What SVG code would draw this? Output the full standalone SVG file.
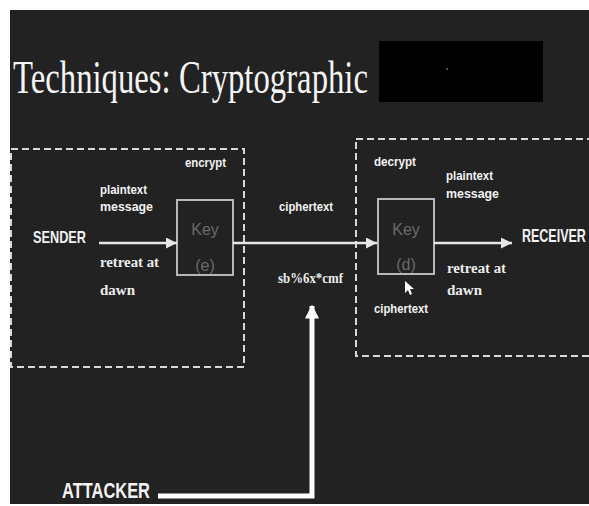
<svg xmlns="http://www.w3.org/2000/svg" width="589" height="506" viewBox="0 0 589 506">
<defs>
<style>
.bg{fill:#222222}
.dash{fill:none;stroke:#d8d8d8;stroke-width:2;stroke-dasharray:7 4}
.key{fill:none;stroke:#b8b8b8;stroke-width:2}
.lbl{font-family:"Liberation Sans",Arial,sans-serif;font-weight:bold;fill:#f2f2f2}
.ser{font-family:"Liberation Serif","Times New Roman",serif;font-weight:bold;fill:#ececec}
.keyt{font-family:"Liberation Sans",Arial,sans-serif;fill:#6a6a6a;font-size:16px;text-anchor:middle}
.line{stroke:#e6e6e6;stroke-width:2.5;fill:none}
.thick{stroke:#ffffff;stroke-width:5;fill:none}
</style>
<marker id="ah" viewBox="0 0 10 10" refX="10" refY="5" markerWidth="4.4" markerHeight="4.4" orient="auto" markerUnits="strokeWidth">
<path d="M0,0 L10,5 L0,10 z" fill="#e6e6e6"/>
</marker>
<marker id="ahw" viewBox="0 0 10 10" refX="9" refY="5" markerWidth="2.8" markerHeight="2.8" orient="auto" markerUnits="strokeWidth">
<path d="M0,0 L10,5 L0,10 z" fill="#ffffff"/>
</marker>
</defs>
<rect x="0" y="0" width="589" height="506" fill="#ffffff"/>
<rect class="bg" x="10" y="10" width="579" height="494"/>

<g id="title">
<text x="13" y="93" font-family="'Liberation Serif','Times New Roman',serif" font-size="47" fill="#f4f4f4" textLength="355" lengthAdjust="spacingAndGlyphs">Techniques: Cryptographic</text>
<rect x="379" y="41" width="164" height="61" fill="#000000"/>
<circle cx="447" cy="69" r="0.8" fill="#bbbbbb"/>
</g>

<g id="sender-box">
<rect class="dash" x="11" y="149" width="233" height="218"/>
</g>
<g id="receiver-box">
<rect class="dash" x="356" y="139" width="250" height="217"/>
</g>

<g id="sender">
<text class="lbl" x="33" y="243" font-size="17" textLength="53" lengthAdjust="spacingAndGlyphs">SENDER</text>
</g>
<g id="plaintext-left">
<text class="lbl" x="100" y="194" font-size="13" textLength="47" lengthAdjust="spacingAndGlyphs">plaintext</text>
<text class="lbl" x="100" y="211" font-size="13" textLength="53" lengthAdjust="spacingAndGlyphs">message</text>
</g>
<g id="retreat-left">
<text class="ser" x="100" y="267" font-size="15" textLength="59" lengthAdjust="spacingAndGlyphs">retreat at</text>
<text class="ser" x="100" y="295" font-size="15" textLength="35" lengthAdjust="spacingAndGlyphs">dawn</text>
</g>
<g id="encrypt">
<text class="lbl" x="185" y="167" font-size="12" textLength="41" lengthAdjust="spacingAndGlyphs">encrypt</text>
<rect class="key" x="177" y="200" width="56" height="75"/>
<text class="keyt" x="205" y="235">Key</text>
<text class="keyt" x="205" y="271">(e)</text>
</g>
<g id="cipher-mid">
<text class="lbl" x="279" y="211" font-size="13" textLength="54" lengthAdjust="spacingAndGlyphs">ciphertext</text>
<text class="ser" x="278" y="283" font-size="14" textLength="65" lengthAdjust="spacingAndGlyphs">sb%6x*cmf</text>
</g>
<g id="decrypt">
<text class="lbl" x="374" y="166" font-size="12" textLength="42" lengthAdjust="spacingAndGlyphs">decrypt</text>
<rect class="key" x="378" y="199" width="56" height="75"/>
<text class="keyt" x="406" y="235">Key</text>
<text class="keyt" x="406" y="270">(d)</text>
<text class="lbl" x="374" y="313" font-size="13" textLength="54" lengthAdjust="spacingAndGlyphs">ciphertext</text>
<path d="M405,281 L405,293 L408,290 L410,295 L412,294 L410,289 L414,289 z" fill="#ffffff"/>
</g>
<g id="plaintext-right">
<text class="lbl" x="446" y="180" font-size="13" textLength="47" lengthAdjust="spacingAndGlyphs">plaintext</text>
<text class="lbl" x="446" y="198" font-size="13" textLength="53" lengthAdjust="spacingAndGlyphs">message</text>
</g>
<g id="retreat-right">
<text class="ser" x="447" y="273" font-size="15" textLength="59" lengthAdjust="spacingAndGlyphs">retreat at</text>
<text class="ser" x="447" y="295" font-size="15" textLength="35" lengthAdjust="spacingAndGlyphs">dawn</text>
</g>
<g id="receiver">
<text class="lbl" transform="translate(522,242) scale(1,1.4)" x="0" y="0" font-size="12.5">RECEIVER</text>
</g>
<g id="attacker">
<text class="lbl" x="62" y="498" font-size="22" textLength="88" lengthAdjust="spacingAndGlyphs">ATTACKER</text>
</g>

<g id="connectors">
<line class="line" x1="99" y1="243" x2="177" y2="243" marker-end="url(#ah)"/>
<line class="line" x1="233" y1="243" x2="377" y2="243" marker-end="url(#ah)"/>
<line class="line" x1="434" y1="243" x2="512" y2="243" marker-end="url(#ah)"/>
<polyline class="thick" points="158,496 312,496 312,306" marker-end="url(#ahw)"/>
</g>
</svg>
